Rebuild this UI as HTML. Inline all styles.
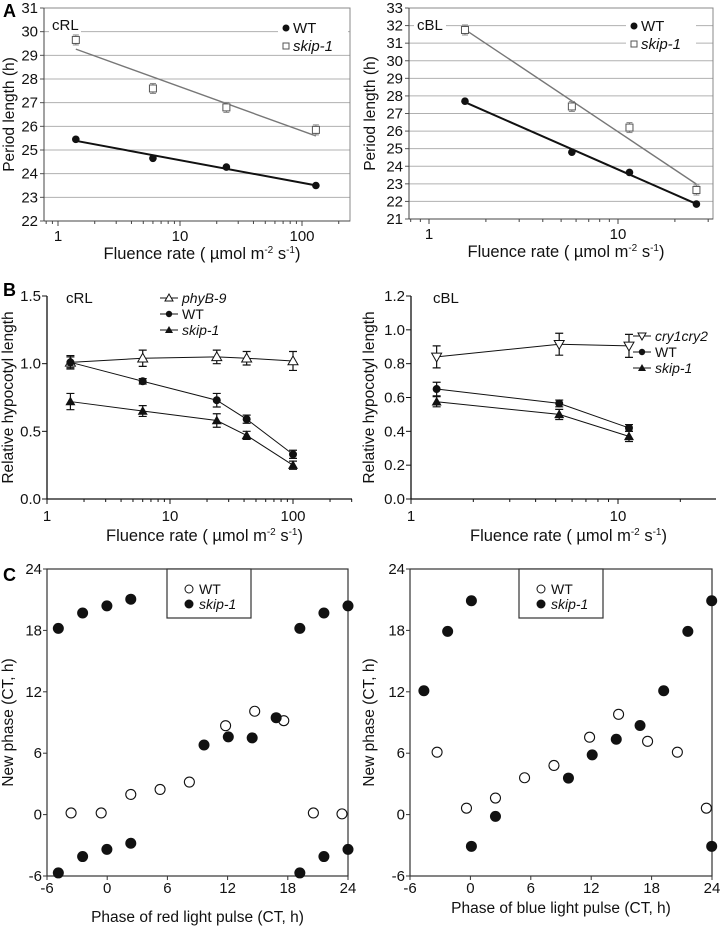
<!DOCTYPE html>
<html><head><meta charset="utf-8"><style>
html,body{margin:0;padding:0;background:#fff;}
svg{display:block;font-family:"Liberation Sans",Arial,sans-serif;}
</style></head><body>
<svg id="fig" width="722" height="931" viewBox="0 0 722 931" xmlns="http://www.w3.org/2000/svg">
<text x="3" y="17" font-size="18" font-weight="bold">A</text>
<text x="3" y="296" font-size="18" font-weight="bold">B</text>
<text x="3" y="581" font-size="18" font-weight="bold">C</text>
</svg>
<script>
// ---- Panel A left (cRL period) ----
const aLX = [1.4, 6, 24, 130];
const aLWT = [25.45, 24.65, 24.28, 23.5];
const aLSkip = [29.65, 27.6, 26.8, 25.85];
const aLYTicks = [22,23,24,25,26,27,28,29,30,31];
const aLXTicks = [1,10,100];
// ---- Panel A right (cBL period) ----
const aRX = [1.55, 5.7, 11.5, 26];
const aRWT = [27.7, 24.8, 23.65, 21.85];
const aRSkip = [31.75, 27.4, 26.2, 22.65];
const aRYTicks = [21,22,23,24,25,26,27,28,29,30,31,32,33];
const aRXTicks = [1,10];
// ---- Panel B left (cRL hypocotyl) ----
const bLX = [1.55, 6, 24, 42, 100];
const bLPhy = [1.01, 1.04, 1.05, 1.04, 1.02];
const bLPhyErr = [0.05, 0.06, 0.05, 0.05, 0.07];
const bLWT = [1.01, 0.87, 0.73, 0.59, 0.33];
const bLWTErr = [0.04, 0.02, 0.05, 0.03, 0.03];
const bLSkip = [0.72, 0.65, 0.58, 0.47, 0.25];
const bLSkipErr = [0.06, 0.04, 0.05, 0.03, 0.03];
const bLYTicks = [0.0, 0.5, 1.0, 1.5];
const bLXTicks = [1,10,100];
// ---- Panel B right (cBL hypocotyl) ----
const bRX = [1.33, 5.2, 11.3];
const bRCry = [0.84, 0.915, 0.905];
const bRCryErr = [0.065, 0.065, 0.068];
const bRWT = [0.65, 0.565, 0.42];
const bRWTErr = [0.04, 0.02, 0.02];
const bRSkip = [0.575, 0.5, 0.37];
const bRSkipErr = [0.03, 0.03, 0.03];
const bRYTicks = [0.0, 0.2, 0.4, 0.6, 0.8, 1.0, 1.2];
const bRXTicks = [1,10];
// ---- Panel C left (red PRC) ----
const cLWTx = [-3.6, -0.6, 2.35, 5.27, 8.19, 11.8, 14.7, 17.6, 20.55, 23.4];
const cLWTy = [0.16, 0.16, 1.97, 2.46, 3.18, 8.69, 10.1, 9.18, 0.16, 0.07];
const cLSkx = [-4.87, -2.45, -0.03, 2.35, -4.87, -2.45, -0.03, 2.35, 9.65, 12.07, 14.45, 16.84, 19.2, 21.6, 24.0, 19.2, 21.6, 24.0];
const cLSky = [18.2, 19.7, 20.4, 21.05, -5.7, -4.1, -3.4, -2.8, 6.8, 7.6, 7.5, 9.47, 18.2, 19.7, 20.4, -5.7, -4.1, -3.4];
// ---- Panel C right (blue PRC) ----
const cRWTx = [-3.31, -0.39, 2.49, 5.38, 8.3, 11.84, 14.72, 17.6, 20.56, 23.44];
const cRWTy = [6.1, 0.63, 1.62, 3.6, 4.8, 7.56, 9.8, 7.16, 6.1, 0.63];
const cRSkx = [-4.62, -2.26, 0.1, 0.1, 2.49, 9.74, 12.1, 14.49, 16.85, 19.2, 21.6, 23.97, 23.97];
const cRSky = [12.1, 17.9, 20.9, -3.1, -0.17, 3.57, 5.84, 7.36, 8.71, 12.1, 17.9, 20.9, -3.1];
const cTicks = [-6, 0, 6, 12, 18, 24];

const svg = document.getElementById('fig');
const NS = 'http://www.w3.org/2000/svg';
function mk(tag, attrs, parent) {
  const e = document.createElementNS(NS, tag);
  for (const k in attrs) e.setAttribute(k, attrs[k]);
  (parent || svg).appendChild(e);
  return e;
}
function txt(x, y, s, size, anchor, parent, style) {
  const t = mk('text', {x: x, y: y, 'font-size': size, 'text-anchor': anchor || 'start', fill: '#111'}, parent);
  if (style) t.setAttribute('font-style', style);
  t.textContent = s;
  return t;
}
function logScale(px1, pxPerDec) { return v => px1 + Math.log10(v) * pxPerDec; }
function linScale(v0, p0, v1, p1) { return v => p0 + (v - v0) * (p1 - p0) / (v1 - v0); }
function fluenceLabel(x, y, g) {
  const t = mk('text', {x: x, y: y, 'font-size': 16.5, 'text-anchor': 'middle', fill: '#111'}, g);
  t.innerHTML = 'Fluence rate ( \u00b5mol m<tspan dy="-6" font-size="10">-2</tspan><tspan dy="6"> s</tspan><tspan dy="-6" font-size="10">-1</tspan><tspan dy="6">)</tspan>';
  
  
}
function yTitle(x, y, s, g) {
  const t = mk('text', {x: 0, y: 0, 'font-size': 15.5, 'text-anchor': 'middle', fill: '#111', transform: 'translate(' + x + ',' + y + ') rotate(-90)'}, g);
  t.textContent = s;
  
  
}
function logMinor(sx, xmin, xmax, yb, g, color) {
  for (let d = -1; d <= 3; d++) for (let m = 1; m < 10; m++) {
    const v = m * Math.pow(10, d);
    if (v < xmin || v > xmax) continue;
    const p = sx(v);
    mk('line', {x1: p, x2: p, y1: yb, y2: yb + (m === 1 ? 5 : 3), stroke: color, 'stroke-width': 1}, g);
  }
}
function regress(xs, ys) {
  const lx = xs.map(v => Math.log10(v));
  const n = lx.length, mx = lx.reduce((a, b) => a + b) / n, my = ys.reduce((a, b) => a + b) / n;
  let sxy = 0, sxx = 0;
  for (let i = 0; i < n; i++) { sxy += (lx[i] - mx) * (ys[i] - my); sxx += (lx[i] - mx) ** 2; }
  const b = sxy / sxx;
  return v => my + b * (Math.log10(v) - mx);
}

// ========== Panel A ==========
function panelA(cfg) {
  const g = mk('g', {});
  
  
  const sx = logScale(cfg.x1px, cfg.dec);
  const sy = linScale(cfg.yTicks[0], cfg.yb, cfg.yTicks[cfg.yTicks.length - 1], cfg.yt);
  cfg.yTicks.forEach(v => {
    const p = sy(v);
    const l = mk('line', {x1: cfg.xl, x2: cfg.xr, y1: p, y2: p, stroke: '#b0b0b0', 'stroke-width': 1}, g);
    
    
    mk('line', {x1: cfg.xl - 4, x2: cfg.xl, y1: p, y2: p, stroke: '#555'}, g);
    const t = txt(cfg.xl - 6, p + 5, String(v), 15, 'end', g);
    
    
  });
  mk('rect', {x: cfg.xl, y: cfg.yt, width: cfg.xr - cfg.xl, height: cfg.yb - cfg.yt, fill: 'none', stroke: '#888'}, g);
  mk('line', {x1: cfg.xl, x2: cfg.xl, y1: cfg.yt, y2: cfg.yb, stroke: '#444'}, g);
  mk('line', {x1: cfg.xl, x2: cfg.xr, y1: cfg.yb, y2: cfg.yb, stroke: '#444'}, g);
  logMinor(sx, cfg.xmin, cfg.xmax, cfg.yb, g, '#444');
  cfg.xTicks.forEach(v => {
    const t = txt(sx(v), cfg.yb + 20, String(v), 15, 'middle', g);
    
    
  });
  mk('rect', {x: cfg.legX - 8, y: cfg.legY - 12, width: 70, height: 32, fill: '#fff'}, g);
  mk('circle', {cx: cfg.legX, cy: cfg.legY - 1, r: 3.5, fill: '#111'}, g);
  const l1 = txt(cfg.legX + 7, cfg.legY + 4, 'WT', 15, 'start', g);
  
  
  mk('rect', {x: cfg.legX - 3, y: cfg.legY + 14, width: 6, height: 6, fill: '#fff', stroke: '#555'}, g);
  const l2 = txt(cfg.legX + 7, cfg.legY + 22, 'skip-1', 15, 'start', g, 'italic');
  
  
  mk('rect', {x: cfg.xl + 5, y: cfg.labY - 14, width: 32, height: 18, fill: '#fff'}, g);
  const lab = txt(cfg.xl + 8, cfg.labY, cfg.label, 15, 'start', g);
  
  
  [[cfg.skip, '#777', 1.4, 'trendline-skip-1'], [cfg.wt, '#111', 2, 'trendline-wt']].forEach(([ys, col, w, nm]) => {
    const f = regress(cfg.xs, ys);
    const x0 = cfg.xs[0], x1 = cfg.xs[cfg.xs.length - 1];
    const l = mk('line', {x1: sx(x0), y1: sy(f(x0)), x2: sx(x1), y2: sy(f(x1)), stroke: col, 'stroke-width': w}, g);
    
    
  });
  cfg.xs.forEach((x, i) => {
    const px = sx(x);
    mk('line', {x1: px, x2: px, y1: sy(cfg.skip[i]) - 5, y2: sy(cfg.skip[i]) + 5, stroke: '#888'}, g);
    mk('line', {x1: px - 3, x2: px + 3, y1: sy(cfg.skip[i]) - 5, y2: sy(cfg.skip[i]) - 5, stroke: '#888'}, g);
    mk('line', {x1: px - 3, x2: px + 3, y1: sy(cfg.skip[i]) + 5, y2: sy(cfg.skip[i]) + 5, stroke: '#888'}, g);
    const s = mk('rect', {x: px - 3.5, y: sy(cfg.skip[i]) - 3.5, width: 7, height: 7, fill: '#fff', stroke: '#555'}, g);
    
    
    const c = mk('circle', {cx: px, cy: sy(cfg.wt[i]), r: 3.8, fill: '#111'}, g);
    
    
  });
  fluenceLabel((cfg.xl + cfg.xr) / 2 + 5, cfg.yb + 38, g);
  yTitle(cfg.titleX, (cfg.yt + cfg.yb) / 2, 'Period length (h)', g);
}
panelA({name: 'chart-a-crl', x1px: 58, dec: 122, xl: 44, xr: 350, yt: 8, yb: 221, xmin: 0.77, xmax: 246,
  xs: aLX, wt: aLWT, skip: aLSkip, yTicks: aLYTicks, xTicks: aLXTicks, legX: 286, legY: 29, labY: 30, label: 'cRL', titleX: 14});
panelA({name: 'chart-a-cbl', x1px: 429, dec: 189, xl: 409, xr: 713, yt: 8, yb: 219, xmin: 0.8, xmax: 35,
  xs: aRX, wt: aRWT, skip: aRSkip, yTicks: aRYTicks, xTicks: aRXTicks, legX: 634, legY: 27, labY: 30, label: 'cBL', titleX: 375});

// ========== Panel B ==========
function panelB(cfg) {
  const g = mk('g', {});
  
  
  const sx = logScale(cfg.x1px, cfg.dec);
  const sy = linScale(cfg.yTicks[0], cfg.yb, cfg.yTicks[cfg.yTicks.length - 1], cfg.yt);
  mk('line', {x1: cfg.xl, x2: cfg.xl, y1: cfg.yt, y2: cfg.yb, stroke: '#111', 'stroke-width': 1.3}, g);
  mk('line', {x1: cfg.xl, x2: cfg.xr, y1: cfg.yb, y2: cfg.yb, stroke: '#111', 'stroke-width': 1.3}, g);
  cfg.yTicks.forEach(v => {
    const p = sy(v);
    mk('line', {x1: cfg.xl - 5, x2: cfg.xl, y1: p, y2: p, stroke: '#111'}, g);
    const t = txt(cfg.xl - 6, p + 5, v.toFixed(1), 15, 'end', g);
    
    
  });
  logMinor(sx, 1, cfg.xmax, cfg.yb, g, '#111');
  cfg.xTicks.forEach(v => {
    const t = txt(sx(v), cfg.yb + 22, String(v), 15, 'middle', g);
    
    
  });
  const lab = txt(cfg.labX, cfg.labY, cfg.label, 15, 'start', g);
  
  
  cfg.series.forEach((s, si) => {
    const pts = cfg.xs.map((x, i) => sx(x) + ',' + sy(s.y[i])).join(' ');
    const pl = mk('polyline', {points: pts, fill: 'none', stroke: '#111', 'stroke-width': 1}, g);
    
    
    cfg.xs.forEach((x, i) => {
      const px = sx(x), py = sy(s.y[i]), e1 = sy(s.y[i] + s.e[i]), e2 = sy(s.y[i] - s.e[i]);
      mk('path', {d: 'M' + px + ',' + e1 + 'V' + e2 + 'M' + (px - 4) + ',' + e1 + 'h8M' + (px - 4) + ',' + e2 + 'h8', stroke: '#111', fill: 'none', 'stroke-width': 1.2}, g);
      const m = marker(s.shape, px, py, g);
      
      
    });
    const ly = cfg.legY + si * 16;
    mk('line', {x1: cfg.legX, x2: cfg.legX + 18, y1: ly, y2: ly, stroke: '#111'}, g);
    marker(s.shape, cfg.legX + 9, ly, g, 0.8);
    const t = txt(cfg.legX + 22, ly + 5, s.label, 14, 'start', g, s.italic ? 'italic' : null);
    
    
  });
  fluenceLabel((cfg.xl + cfg.xr) / 2 + 5, cfg.yb + 42, g);
  yTitle(cfg.titleX, (cfg.yt + cfg.yb) / 2, 'Relative hypocotyl length', g);
}
function marker(shape, x, y, g, sc) {
  sc = sc || 1;
  if (shape === 'circle') return mk('circle', {cx: x, cy: y, r: 4 * sc, fill: '#111'}, g);
  const r = 5 * sc;
  if (shape === 'tri-up-open') return mk('polygon', {points: x + ',' + (y - r) + ' ' + (x - r) + ',' + (y + r * 0.75) + ' ' + (x + r) + ',' + (y + r * 0.75), fill: '#fff', stroke: '#111'}, g);
  if (shape === 'tri-up') return mk('polygon', {points: x + ',' + (y - r) + ' ' + (x - r) + ',' + (y + r * 0.75) + ' ' + (x + r) + ',' + (y + r * 0.75), fill: '#111'}, g);
  return mk('polygon', {points: x + ',' + (y + r) + ' ' + (x - r) + ',' + (y - r * 0.75) + ' ' + (x + r) + ',' + (y - r * 0.75), fill: '#fff', stroke: '#111'}, g);
}
panelB({name: 'chart-b-crl', x1px: 47, dec: 123, xl: 47, xr: 352, yt: 296, yb: 499, xmax: 300, xs: bLX,
  yTicks: bLYTicks, xTicks: bLXTicks, labX: 66, labY: 303, label: 'cRL', legX: 160, legY: 298, titleX: 13,
  series: [
    {key: 'phyb-9', label: 'phyB-9', italic: true, shape: 'tri-up-open', y: bLPhy, e: bLPhyErr},
    {key: 'wt', label: 'WT', shape: 'circle', y: bLWT, e: bLWTErr},
    {key: 'skip-1', label: 'skip-1', italic: true, shape: 'tri-up', y: bLSkip, e: bLSkipErr}]});
panelB({name: 'chart-b-cbl', x1px: 411, dec: 207, xl: 411, xr: 716, yt: 296, yb: 499, xmax: 29, xs: bRX,
  yTicks: bRYTicks, xTicks: bRXTicks, labX: 433, labY: 303, label: 'cBL', legX: 633, legY: 336, titleX: 374,
  series: [
    {key: 'cry1cry2', label: 'cry1cry2', italic: true, shape: 'tri-down-open', y: bRCry, e: bRCryErr},
    {key: 'wt', label: 'WT', shape: 'circle', y: bRWT, e: bRWTErr},
    {key: 'skip-1', label: 'skip-1', italic: true, shape: 'tri-up', y: bRSkip, e: bRSkipErr}]});

// ========== Panel C ==========
function panelC(cfg) {
  const g = mk('g', {});
  
  
  const sx = linScale(-6, cfg.xl, 24, cfg.xr);
  const sy = linScale(-6, cfg.yb, 24, cfg.yt);
  mk('rect', {x: cfg.xl, y: cfg.yt, width: cfg.xr - cfg.xl, height: cfg.yb - cfg.yt, fill: 'none', stroke: '#333', 'stroke-width': 1.2}, g);
  cTicks.forEach(v => {
    mk('line', {x1: cfg.xl - 4, x2: cfg.xl, y1: sy(v), y2: sy(v), stroke: '#333'}, g);
    const t = txt(cfg.xl - 5, sy(v) + 5, String(v), 15, 'end', g);
    
    
    mk('line', {x1: sx(v), x2: sx(v), y1: cfg.yb, y2: cfg.yb + 4, stroke: '#333'}, g);
    const t2 = txt(sx(v), cfg.yb + 17, String(v), 15, 'middle', g);
    
    
  });
  const lg = mk('rect', {x: cfg.legX, y: cfg.yt, width: 84, height: 49, fill: '#fff', stroke: '#333', 'stroke-width': 1.2}, g);
  
  
  mk('circle', {cx: cfg.legX + 22, cy: cfg.yt + 20, r: 4, fill: '#fff', stroke: '#111'}, g);
  const a = txt(cfg.legX + 32, cfg.yt + 25, 'WT', 14, 'start', g);
  
  
  mk('circle', {cx: cfg.legX + 22, cy: cfg.yt + 35, r: 4.5, fill: '#111'}, g);
  const b = txt(cfg.legX + 32, cfg.yt + 40, 'skip-1', 14, 'start', g, 'italic');
  
  
  cfg.wx.forEach((x, i) => {
    const c = mk('circle', {cx: sx(x), cy: sy(cfg.wy[i]), r: 5, fill: '#fff', stroke: '#111', 'stroke-width': 1.1}, g);
    
    
  });
  cfg.sx.forEach((x, i) => {
    const c = mk('circle', {cx: sx(x), cy: sy(cfg.sy[i]), r: 5.5, fill: '#111'}, g);
    
    
  });
  const xt = txt((cfg.xl + cfg.xr) / 2, cfg.xtY, cfg.xTitle, 15.5, 'middle', g);
  
  
  yTitle(cfg.titleX, (cfg.yt + cfg.yb) / 2, 'New phase (CT, h)', g);
}
panelC({name: 'chart-c-red', xl: 47, xr: 348, yt: 569, yb: 876, legX: 167, wx: cLWTx, wy: cLWTy, sx: cLSkx, sy: cLSky,
  xTitle: 'Phase of red light pulse (CT, h)', xtY: 922, titleX: 13});
panelC({name: 'chart-c-blue', xl: 410, xr: 712, yt: 569, yb: 876, legX: 519, wx: cRWTx, wy: cRWTy, sx: cRSkx, sy: cRSky,
  xTitle: 'Phase of blue light pulse (CT, h)', xtY: 913, titleX: 374});
</script>
</body></html>
